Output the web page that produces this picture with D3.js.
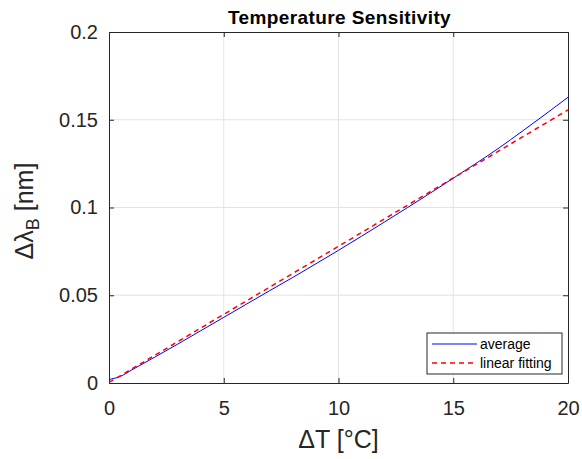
<!DOCTYPE html>
<html lang="en">
<head>
    <meta charset="UTF-8">
    <title>Temperature Sensitivity</title>
    <script src="https://d3js.org/d3.v7.min.js"></script>
</head>
<style>
    body {
        margin: 0;
        background: #fff;
        font-family: "Liberation Sans", Arial, sans-serif;
    }
</style>
<body>
<div class="chart"></div>
<script>
  /** DATA */
  var tempSteps = [0, 0.5, 1, 2, 3, 4, 5, 6, 7, 8, 9, 10, 11, 12, 13, 14, 15, 16, 17, 18, 19, 20];
  var averageShift = [0.0020, 0.0038, 0.0075, 0.0148, 0.0222, 0.0298, 0.0374, 0.0450, 0.0526, 0.0601,
    0.0678, 0.0756, 0.0836, 0.0917, 0.0999, 0.1082, 0.1167, 0.1252, 0.1340, 0.1434, 0.1530, 0.1628];
  var fitTemps = [0, 5, 10, 15, 20];
  var fitShift = [0.0003, 0.0391, 0.0779, 0.1168, 0.1556];
  var xTicks = [0, 5, 10, 15, 20];
  var yTicks = [0, 0.05, 0.1, 0.15, 0.2];
  var legendLabels = ['average', 'linear fitting'];

  /** LAYOUT */
  var width = 582, height = 459;
  var plotLeft = 109, plotRight = 568, plotTop = 32, plotBottom = 383;
  var axisColor = '#262626';
  var tickLen = 5;

  var svg = d3.select('.chart').append('svg')
    .attr('width', width)
    .attr('height', height);

  var x = d3.scaleLinear().domain([0, 20]).range([plotLeft, plotRight]);
  var y = d3.scaleLinear().domain([0, 0.2]).range([plotBottom, plotTop]);

  /** grid */
  var grid = svg.append('g').classed('grid', true);
  grid.selectAll('line.gx')
    .data(xTicks.slice(1, -1))
    .enter().append('line')
    .attr('x1', function (d) { return x(d); })
    .attr('x2', function (d) { return x(d); })
    .attr('y1', plotTop).attr('y2', plotBottom)
    .attr('stroke', '#e3e3e3').attr('stroke-width', 1);
  grid.selectAll('line.gy')
    .data(yTicks.slice(1, -1))
    .enter().append('line')
    .attr('y1', function (d) { return y(d); })
    .attr('y2', function (d) { return y(d); })
    .attr('x1', plotLeft).attr('x2', plotRight)
    .attr('stroke', '#e3e3e3').attr('stroke-width', 1);

  /** axes: ticks inward, box on */
  function styleAxis(g) {
    g.select('.domain').attr('stroke', axisColor);
    g.selectAll('.tick line').attr('stroke', axisColor);
    g.selectAll('.tick text')
      .attr('fill', axisColor)
      .style('font-family', '"Liberation Sans", Arial, sans-serif')
      .style('font-size', '20px');
  }

  svg.append('g')
    .attr('transform', 'translate(0,' + plotBottom + ')')
    .call(d3.axisBottom(x).tickValues(xTicks).tickSize(-tickLen).tickSizeOuter(0).tickPadding(18))
    .call(styleAxis);
  svg.append('g')
    .attr('transform', 'translate(0,' + plotTop + ')')
    .call(d3.axisTop(x).tickValues(xTicks).tickSize(-tickLen).tickSizeOuter(0).tickFormat(''))
    .call(styleAxis);
  svg.append('g')
    .attr('transform', 'translate(' + plotLeft + ',0)')
    .call(d3.axisLeft(y).tickValues(yTicks).tickSize(-tickLen).tickSizeOuter(0).tickPadding(11)
      .tickFormat(function (d) { return d === 0 ? '0' : String(+d.toFixed(2)); }))
    .call(styleAxis);
  svg.append('g')
    .attr('transform', 'translate(' + plotRight + ',0)')
    .call(d3.axisRight(y).tickValues(yTicks).tickSize(-tickLen).tickSizeOuter(0).tickFormat(''))
    .call(styleAxis);

  /** lines */
  var avgLine = d3.line()
    .x(function (d, i) { return x(tempSteps[i]); })
    .y(function (d) { return y(d); })
    .curve(d3.curveMonotoneX);
  var fitLine = d3.line()
    .x(function (d, i) { return x(fitTemps[i]); })
    .y(function (d) { return y(d); });

  svg.append('path')
    .attr('d', avgLine(averageShift))
    .attr('fill', 'none')
    .attr('stroke', '#0000ff')
    .attr('stroke-width', 1);
  svg.append('path')
    .attr('d', fitLine(fitShift))
    .attr('fill', 'none')
    .attr('stroke', '#ff0000')
    .attr('stroke-width', 1.5)
    .attr('stroke-dasharray', '5,4');

  /** title and labels */
  svg.append('text')
    .attr('x', (plotLeft + plotRight) / 2 + 1)
    .attr('y', 24)
    .attr('text-anchor', 'middle')
    .attr('fill', '#000')
    .style('font-size', '19px')
    .style('letter-spacing', '0.4px')
    .style('font-weight', 'bold')
    .text('Temperature Sensitivity');

  svg.append('text')
    .attr('x', (plotLeft + plotRight) / 2)
    .attr('y', 448)
    .attr('text-anchor', 'middle')
    .attr('fill', axisColor)
    .style('font-size', '25px')
    .text('\u0394T [\u00b0C]');

  var yLabel = svg.append('text')
    .attr('transform', 'translate(33,211) rotate(-90)')
    .attr('text-anchor', 'middle')
    .attr('fill', axisColor)
    .style('font-size', '25px');
  yLabel.append('tspan').text('\u0394\u03bb');
  yLabel.append('tspan').attr('dy', 6).style('font-size', '18px').text('B');
  yLabel.append('tspan').attr('dy', -6).text(' [nm]');

  /** legend */
  var legend = svg.append('g')
    .attr('transform', 'translate(427,333)');
  legend.append('rect')
    .attr('width', 135).attr('height', 41)
    .attr('fill', '#fff')
    .attr('stroke', axisColor).attr('stroke-width', 1);
  var legendItems = legend.selectAll('g.item')
    .data(legendLabels)
    .enter().append('g')
    .attr('transform', function (d, i) { return 'translate(0,' + (11 + i * 19) + ')'; });
  legendItems.append('line')
    .attr('x1', 5).attr('x2', 50)
    .attr('stroke', function (d, i) { return i === 0 ? '#0000ff' : '#ff0000'; })
    .attr('stroke-width', function (d, i) { return i === 0 ? 1 : 1.5; })
    .attr('stroke-dasharray', function (d, i) { return i === 0 ? null : '5,4'; });
  legendItems.append('text')
    .attr('x', 53).attr('dy', '0.35em')
    .attr('fill', '#000')
    .style('font-size', '14px')
    .text(function (d) { return d; });
</script>
</body>
</html>
